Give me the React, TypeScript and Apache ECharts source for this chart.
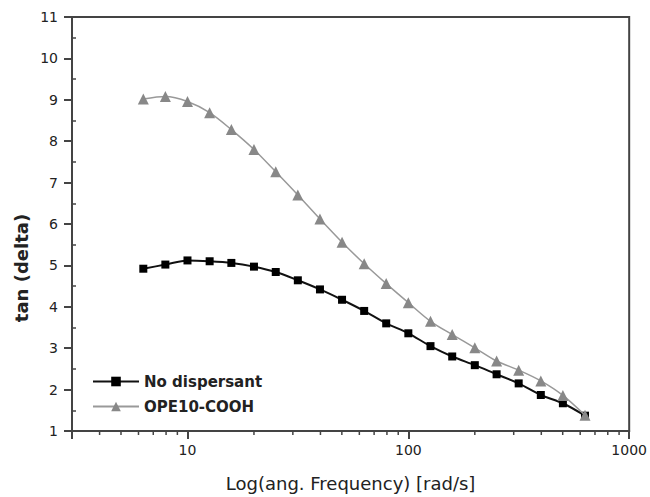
import React, { useEffect, useRef } from "react";
import * as echarts from "echarts";

const freq = [6.31, 7.94, 10, 12.6, 15.8, 20, 25.1, 31.6, 39.8, 50.1, 63.1, 79.4, 100, 126, 158, 200, 251, 316, 398, 501, 631];
const noDispersant = [4.92, 5.02, 5.12, 5.10, 5.06, 4.97, 4.84, 4.64, 4.42, 4.17, 3.90, 3.60, 3.36, 3.05, 2.80, 2.59, 2.37, 2.15, 1.87, 1.67, 1.37];
const ope10Cooh = [9.02, 9.08, 8.96, 8.69, 8.28, 7.80, 7.26, 6.70, 6.12, 5.56, 5.04, 4.56, 4.10, 3.65, 3.33, 3.01, 2.69, 2.47, 2.21, 1.86, 1.38];
const xMajorLabels = [10, 100, 1000];
const xMinorTicks = [4, 5, 6, 7, 8, 9, 20, 30, 40, 50, 60, 70, 80, 90, 200, 300, 400, 500, 600, 700, 800, 900];
const seriesNames = ["No dispersant", "OPE10-COOH"];

const AXIS = "#444";
const FONT = "DejaVu Sans";

export default function App() {
  const ref = useRef<HTMLDivElement>(null);
  useEffect(() => {
    if (!ref.current) return;
    const chart = echarts.init(ref.current, undefined, { renderer: "svg" });
    chart.setOption({
      animation: false,
      backgroundColor: "#fff",
      grid: { left: 72, right: 17, top: 17, bottom: 64, show: true, borderColor: AXIS, borderWidth: 2 },
      legend: {
        orient: "vertical",
        left: 92,
        top: 374,
        padding: 0,
        itemWidth: 46,
        itemHeight: 12,
        itemGap: 10,
        data: seriesNames,
        textStyle: { fontFamily: FONT, fontSize: 15, fontWeight: "bold", color: "#222" },
      },
      xAxis: {
        type: "log",
        logBase: 10,
        min: 3,
        max: 1000,
        name: "Log(ang. Frequency) [rad/s]",
        nameLocation: "middle",
        nameGap: 43,
        nameTextStyle: { fontFamily: FONT, fontSize: 18, color: "#222" },
        axisLine: { lineStyle: { color: AXIS, width: 2 } },
        axisTick: { show: true, length: 8, lineStyle: { color: AXIS, width: 2 } },
        axisLabel: {
          margin: 12,
          fontFamily: FONT,
          fontSize: 14,
          color: "#222",
          formatter: (v: number) => {
            const r = Math.round(v);
            return xMajorLabels.includes(r) ? String(r) : "";
          },
        },
        splitLine: { show: false },
      },
      yAxis: [
        {
          type: "value",
          min: 1,
          max: 11,
          interval: 1,
          axisLine: { show: true, lineStyle: { color: AXIS, width: 2 } },
          axisTick: { show: true, length: 8, lineStyle: { color: AXIS, width: 2 } },
          axisLabel: { margin: 14, fontFamily: FONT, fontSize: 14, color: "#222" },
          splitLine: { show: false },
        },
        {
          type: "value",
          position: "left",
          min: 1,
          max: 11,
          interval: 1,
          axisLine: { show: false },
          axisTick: { show: false, inside: true },
          axisLabel: { show: false },
          minorTick: { show: true, splitNumber: 2, length: 4, lineStyle: { color: AXIS, width: 1.5 } },
          splitLine: { show: false },
          minorSplitLine: { show: false },
        },
      ],
      graphic: [
        {
          type: "text",
          x: 21,
          y: 268,
          rotation: Math.PI / 2,
          style: {
            text: "tan (delta)",
            fontFamily: FONT,
            fontSize: 18,
            fontWeight: "bold",
            fill: "#222",
            align: "center",
            verticalAlign: "middle",
          },
        },
      ],
      series: [
        {
          name: seriesNames[0],
          type: "line",
          smooth: 0.3,
          data: freq.map((f, i) => [f, noDispersant[i]]),
          symbol: "rect",
          symbolSize: 8,
          lineStyle: { color: "#111", width: 2 },
          itemStyle: { color: "#000" },
          z: 3,
        },
        {
          name: seriesNames[1],
          type: "line",
          smooth: 0.3,
          data: freq.map((f, i) => [f, ope10Cooh[i]]),
          symbol: "triangle",
          symbolSize: 11,
          lineStyle: { color: "#999", width: 1.5 },
          itemStyle: { color: "#888" },
          z: 4,
        },
        {
          type: "custom",
          silent: true,
          clip: false,
          data: xMinorTicks.map((v) => [v, 1]),
          encode: { x: 0, y: 1 },
          renderItem: (_params: any, api: any) => {
            const p = api.coord([api.value(0), 1]);
            return {
              type: "line",
              shape: { x1: p[0], y1: p[1], x2: p[0], y2: p[1] + 4 },
              style: { stroke: AXIS, lineWidth: 1.5 },
            };
          },
        },
      ],
    });
    return () => chart.dispose();
  }, []);
  return <div ref={ref} style={{ position: "fixed", left: 0, top: 0, width: 650, height: 497 }} />;
}
